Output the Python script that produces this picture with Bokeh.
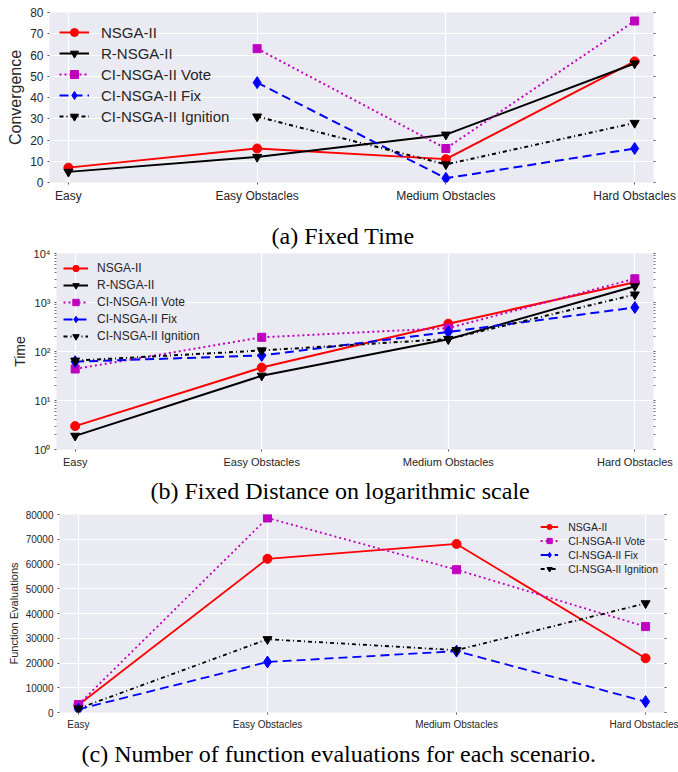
import math
from bokeh.plotting import figure
from bokeh.models import Range1d, FixedTicker, LinearAxis, LogAxis, Title, CustomJSTickFormatter
from bokeh.embed import file_html
from bokeh.resources import INLINE

nan = float("nan")
categories = ["Easy", "Easy Obstacles", "Medium Obstacles", "Hard Obstacles"]

# (a) Fixed Time: convergence
conv_nsga = [7, 16, 11, 57]
conv_rnsga = [5, 12, 22.5, 56]
conv_vote = [nan, 63, 16, 76]
conv_fix = [nan, 47, 2, 16]
conv_ign = [nan, 31, 8.5, 28]
conv_ticks = [0, 10, 20, 30, 40, 50, 60, 70, 80]

# (b) Fixed Distance: time (log scale)
time_nsga = [3, 47, 370, 2600]
time_rnsga = [1.9, 32, 178, 2150]
time_vote = [44, 195, 300, 3050]
time_fix = [62, 83, 250, 790]
time_ign = [65, 105, 180, 1450]
time_ticks = [1, 10, 100, 1000, 10000]
time_tick_labels = ["10\u2070", "10\u00b9", "10\u00b2", "10\u00b3", "10\u2074"]

# (c) Function evaluations
fe_nsga = [3000, 62100, 68100, 21900]
fe_vote = [3200, 78600, 57700, 34700]
fe_fix = [1300, 20400, 24800, 4400]
fe_ign = [1600, 29600, 25200, 44100]
fe_ticks = [0, 10000, 20000, 30000, 40000, 50000, 60000, 70000, 80000]

STYLES = {
    "NSGA-II": dict(color="#FF0000", dash="solid", marker="circle", size=9),
    "R-NSGA-II": dict(color="#000000", dash="solid", marker="inverted_triangle", size=9),
    "CI-NSGA-II Vote": dict(color="#BF00BF", dash="2 3", marker="square", size=8),
    "CI-NSGA-II Fix": dict(color="#0000FF", dash="9 5", marker="diamond", size=12),
    "CI-NSGA-II Ignition": dict(color="#000000", dash="4 3 1 3", marker="inverted_triangle", size=9),
}

SANS = "Liberation Sans"
TXT = "#262626"
BG = "#EAEAF2"
xpos = list(range(len(categories)))


def make_fig(frame_w, frame_h, left, right, top, bottom, log=False, yr=(0, 1),
             tick_fs="12px", label_fs="15px", ylabel=""):
    kw = dict(y_axis_type="log") if log else {}
    p = figure(frame_width=frame_w, frame_height=frame_h, output_backend="svg",
               toolbar_location=None, x_range=Range1d(-0.1, 3.1),
               y_range=Range1d(*yr), min_border_left=left, min_border_right=right,
               min_border_top=top, min_border_bottom=bottom, **kw)
    p.background_fill_color = BG
    p.border_fill_color = "white"
    p.outline_line_color = None
    p.xaxis.ticker = FixedTicker(ticks=xpos)
    p.xaxis.major_label_overrides = {i: c for i, c in enumerate(categories)}
    for ax in p.axis:
        ax.axis_line_color = None
        ax.major_tick_out = 2
        ax.major_tick_in = 0
        ax.minor_tick_in = 0
        ax.minor_tick_out = 0
        ax.major_tick_line_color = "#555555"
        ax.minor_tick_line_color = "#777777"
        ax.major_label_text_font = SANS
        ax.major_label_text_font_size = tick_fs
        ax.major_label_text_color = TXT
        ax.axis_label_text_font = SANS
        ax.axis_label_text_font_size = label_fs
        ax.axis_label_text_font_style = "normal"
        ax.axis_label_text_color = TXT
        ax.major_label_standoff = 4
        ax.axis_label_standoff = 3
    p.yaxis.axis_label = ylabel
    p.grid.grid_line_color = "white"
    p.grid.grid_line_width = 1.2
    return p


def add_right_ticks(p, ticker, log=False, minor=False):
    ax = (LogAxis if log else LinearAxis)(ticker=ticker)
    ax.formatter = CustomJSTickFormatter(code="return ''")
    ax.axis_line_color = None
    ax.major_tick_out = 2
    ax.major_tick_in = 0
    ax.minor_tick_out = 2 if minor else 0
    ax.minor_tick_in = 0
    ax.major_tick_line_color = "#555555"
    ax.minor_tick_line_color = "#777777"
    ax.major_label_standoff = 0
    p.add_layout(ax, "right")


def draw(p, name, ys, lw=2.0):
    s = STYLES[name]
    p.line(xpos, ys, line_color=s["color"], line_width=lw, line_dash=s["dash"], legend_label=name)
    p.scatter(xpos, ys, marker=s["marker"], size=s["size"],
              fill_color=s["color"], line_color=s["color"], legend_label=name)


def style_legend(p, loc, fs, lh, gw, standoff, padding):
    lg = p.legend[0]
    lg.location = loc
    lg.background_fill_alpha = 0
    lg.border_line_alpha = 0
    lg.label_text_font = SANS
    lg.label_text_font_size = fs
    lg.label_text_color = TXT
    lg.label_height = lh
    lg.glyph_height = lh
    lg.glyph_width = gw
    lg.label_standoff = standoff
    lg.spacing = 1
    lg.margin = 0
    lg.padding = padding


def caption(p, text, offset, standoff, side="below"):
    t = Title(text=text, align="left", offset=offset, text_font="Liberation Serif",
              text_font_size="24px", text_font_style="normal", text_color="black",
              standoff=standoff)
    p.add_layout(t, side)


# ---------- (a)
pa = make_fig(604, 170, 49, 25, 12, 22, yr=(0, 80), tick_fs="12px", label_fs="16px", ylabel="Convergence")
ta = FixedTicker(ticks=conv_ticks)
pa.yaxis.ticker = ta
add_right_ticks(pa, ta)
draw(pa, "NSGA-II", conv_nsga)
draw(pa, "R-NSGA-II", conv_rnsga)
draw(pa, "CI-NSGA-II Vote", conv_vote)
draw(pa, "CI-NSGA-II Fix", conv_fix)
draw(pa, "CI-NSGA-II Ignition", conv_ign)
style_legend(pa, "top_left", "15px", 20, 30, 12, 10)

# ---------- (b)  (caption of (a) sits in the band above this panel)
minor_b = [m * 10 ** e for e in range(4) for m in range(2, 10)]
pb = make_fig(597, 196, 56, 25, 48, 58, log=True, yr=(1, 10000), tick_fs="11px", label_fs="14px", ylabel="Time")
caption(pb, "(a) Fixed Time", 215, 10, side="above")
tb = FixedTicker(ticks=time_ticks, minor_ticks=minor_b)
pb.yaxis.ticker = tb
pb.yaxis.major_label_overrides = {v: l for v, l in zip(time_ticks, time_tick_labels)}
pb.yaxis.minor_tick_out = 2
pb.ygrid.ticker = tb
add_right_ticks(pb, tb, log=True, minor=True)
draw(pb, "NSGA-II", time_nsga)
draw(pb, "R-NSGA-II", time_rnsga)
draw(pb, "CI-NSGA-II Vote", time_vote)
draw(pb, "CI-NSGA-II Fix", time_fix)
draw(pb, "CI-NSGA-II Ignition", time_ign)
style_legend(pb, "top_left", "12px", 16, 25, 9, 7)
caption(pb, "(b) Fixed Distance on logarithmic scale", 94, 11)

# ---------- (c)
pc = make_fig(605, 198, 59, 14, 5, 48, yr=(0, 80000), tick_fs="10px", label_fs="11px", ylabel="Function Evaluations")
tc = FixedTicker(ticks=fe_ticks)
pc.yaxis.ticker = tc
add_right_ticks(pc, tc)
draw(pc, "NSGA-II", fe_nsga, 1.8)
draw(pc, "CI-NSGA-II Vote", fe_vote, 1.8)
draw(pc, "CI-NSGA-II Fix", fe_fix, 1.8)
draw(pc, "CI-NSGA-II Ignition", fe_ign, 1.8)
style_legend(pc, "top_right", "10.5px", 13, 18, 10, 6)
caption(pc, "(c) Number of function evaluations for each scenario.", 22, 12)

# separate roots so that the plot frames keep their own left edges
open("out.html", "w").write(file_html([pa, pb, pc], INLINE))
